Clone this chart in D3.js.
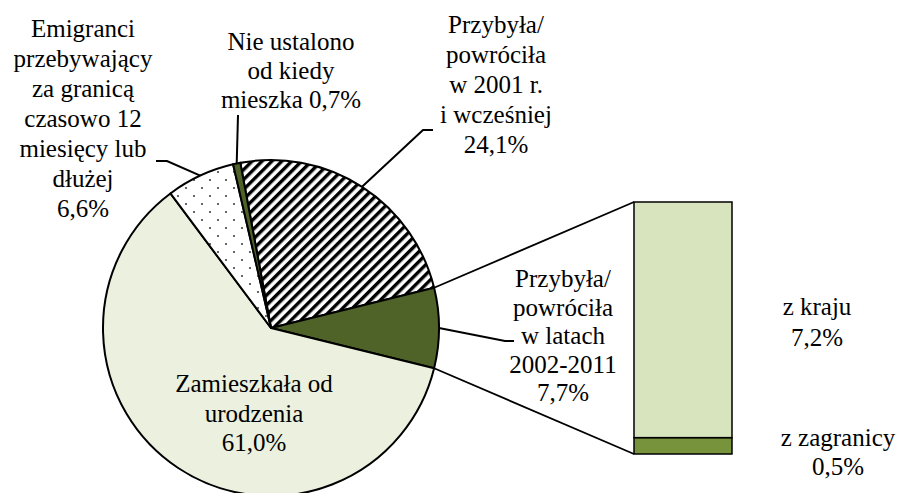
<!DOCTYPE html>
<html>
<head>
<meta charset="utf-8">
<script src="https://cdn.jsdelivr.net/npm/d3@7"></script>
<style>
  html, body { margin: 0; padding: 0; background: #fff; }
  svg { display: block; }
</style>
</head>
<body>
<svg id="chart" width="900" height="493"></svg>
<script>
// ---- data ----
const categories = [
  "Przybyła/powróciła w 2001 r. i wcześniej",
  "Przybyła/powróciła w latach 2002-2011",
  "Zamieszkała od urodzenia",
  "Emigranci przebywający za granicą czasowo 12 miesięcy lub dłużej",
  "Nie ustalono od kiedy mieszka"
];
const values = [24.1, 7.7, 61.0, 6.6, 0.7];
const pieLabels = [
  ["Przybyła/", "powróciła", "w 2001 r.", "i wcześniej", "24,1%"],
  ["Przybyła/", "powróciła", "w latach", "2002-2011", "7,7%"],
  ["Zamieszkała od", "urodzenia", "61,0%"],
  ["Emigranci", "przebywający", "za granicą", "czasowo 12", "miesięcy lub", "dłużej", "6,6%"],
  ["Nie ustalono", "od kiedy", "mieszka 0,7%"]
];
const barCategories = ["z zagranicy", "z kraju"];
const barValues = [0.5, 7.2];
const barLabels = [["z zagranicy", "0,5%"], ["z kraju", "7,2%"]];

// ---- layout ----
const FONT = "'Liberation Serif', 'Times New Roman', Tinos, 'DejaVu Serif', serif";
const svg = d3.select("#chart");
const cx = 271, cy = 328, R = 168;
const fills = ["url(#hatch)", "#4F6228", "#EBF1DE", "url(#dots)", "#4F6228"];
const barFills = ["#77933C", "#D7E4BD"];

const defs = svg.append("defs");
const hatch = defs.append("pattern").attr("id", "hatch")
  .attr("patternUnits", "userSpaceOnUse").attr("width", 7).attr("height", 7)
  .attr("patternTransform", "rotate(45)");
hatch.append("rect").attr("width", 7).attr("height", 7).attr("fill", "#fff");
hatch.append("rect").attr("x", 0).attr("width", 3.4).attr("height", 7).attr("fill", "#000");

const dots = defs.append("pattern").attr("id", "dots")
  .attr("patternUnits", "userSpaceOnUse").attr("width", 16).attr("height", 16)
  .attr("x", cx).attr("y", cy);
dots.append("rect").attr("width", 16).attr("height", 16).attr("fill", "#fff");
dots.append("circle").attr("cx", 4).attr("cy", 4).attr("r", 1.1).attr("fill", "#444");
dots.append("circle").attr("cx", 12).attr("cy", 12).attr("r", 1.1).attr("fill", "#444");

const total = d3.sum(values);
const start = Math.PI / 2 - (values[0] + values[1] / 2) / total * 2 * Math.PI;
const pie = d3.pie().sort(null).value(d => d).startAngle(start).endAngle(start + 2 * Math.PI);
const arcs = pie(values);
const arc = d3.arc().innerRadius(0).outerRadius(R);
const pt = (a, r) => [cx + r * Math.sin(a), cy - r * Math.cos(a)];

// ---- bar of pie ----
const barX0 = 634, barX1 = 732;
const yBar = d3.scaleLinear().domain([0, d3.sum(barValues)]).range([454, 202]);
const stacked = [];
let acc = 0;
barValues.forEach((v, i) => { stacked.push({ i, y0: acc, y1: acc + v }); acc += v; });

// connector lines
const split = arcs[1];
const pTop = pt(split.startAngle, R), pBot = pt(split.endAngle, R);
svg.append("line").attr("x1", pTop[0]).attr("y1", pTop[1]).attr("x2", barX0).attr("y2", yBar(acc))
  .attr("stroke", "#000").attr("stroke-width", 1.8);
svg.append("line").attr("x1", pBot[0]).attr("y1", pBot[1]).attr("x2", barX0).attr("y2", yBar(0))
  .attr("stroke", "#000").attr("stroke-width", 1.8);

const g = svg.append("g").attr("transform", `translate(${cx},${cy})`);
g.selectAll("path").data(arcs).join("path")
  .attr("d", arc)
  .attr("fill", (d, i) => fills[i])
  .attr("stroke", "#000").attr("stroke-width", 2).attr("stroke-linejoin", "round");

svg.selectAll("rect.bar").data(stacked).join("rect").attr("class", "bar")
  .attr("x", barX0).attr("width", barX1 - barX0)
  .attr("y", d => yBar(d.y1)).attr("height", d => yBar(d.y0) - yBar(d.y1))
  .attr("fill", d => barFills[d.i])
  .attr("stroke", "#000").attr("stroke-width", 1.5);

// ---- leader lines ----
const leaders = [
  [pt((arcs[0].startAngle + arcs[0].endAngle) / 2, R), [423, 130], [433, 130]],
  [pt((arcs[1].startAngle + arcs[1].endAngle) / 2, R), [505, 341], [514, 341]],
  null,
  [pt((arcs[3].startAngle + arcs[3].endAngle) / 2, R), [167, 161], [156, 161]],
  [pt((arcs[4].startAngle + arcs[4].endAngle) / 2, R), [238, 115]]
];
leaders.forEach(l => {
  if (!l) return;
  svg.append("path").attr("d", d3.line()(l)).attr("fill", "none")
    .attr("stroke", "#000").attr("stroke-width", 2);
});

// ---- labels ----
function addLabel(lines, p) {
  const t = svg.append("text").attr("text-anchor", "middle")
    .attr("font-family", FONT).attr("font-size", 25).attr("fill", "#000");
  lines.forEach((s, j) => t.append("tspan").attr("x", p.x).attr("y", p.y + j * p.lh).text(s));
}
const labelPos = [
  { x: 496, y: 33, lh: 30 },
  { x: 563, y: 287, lh: 28.5 },
  { x: 254, y: 392, lh: 29.5 },
  { x: 83, y: 37, lh: 30 },
  { x: 291, y: 50, lh: 29 }
];
pieLabels.forEach((lines, i) => addLabel(lines, labelPos[i]));
const barLabelPos = [{ x: 838, y: 446, lh: 29 }, { x: 817, y: 315, lh: 31 }];
barLabels.forEach((lines, i) => addLabel(lines, barLabelPos[i]));
</script>
</body>
</html>
